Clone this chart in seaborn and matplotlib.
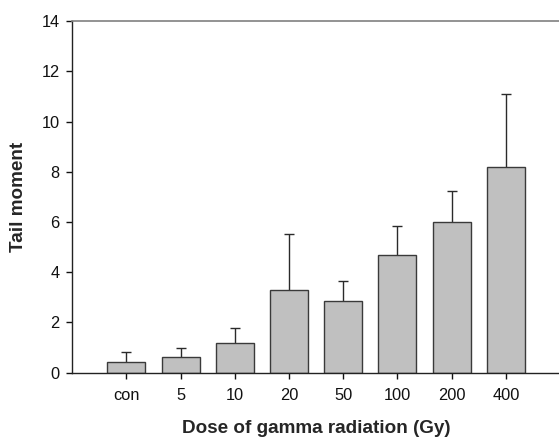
import numpy as np
import pandas as pd
import seaborn as sns
import matplotlib
matplotlib.use("Agg")
import matplotlib.pyplot as plt

# dose groups and comet-assay tail moment (mean, SD)
doses = ["con", "5", "10", "20", "50", "100", "200", "400"]
tail_mean = [0.44, 0.63, 1.17, 3.31, 2.86, 4.69, 5.99, 8.18]
tail_sd = [0.40, 0.34, 0.62, 2.22, 0.81, 1.17, 1.26, 2.91]
yticks = [0, 2, 4, 6, 8, 10, 12, 14]

sns.set_style("ticks")
plt.rcParams['font.family'] = ['Liberation Sans', 'DejaVu Sans']

df = pd.DataFrame({"dose": doses, "tail": tail_mean, "sd": tail_sd})

fig = plt.figure(figsize=(5.59, 4.38), dpi=100, facecolor='white')
ax = fig.add_axes([0.129, 0.149, 0.873, 0.803])

sns.barplot(data=df, x="dose", y="tail", color="#c0c0c0", saturation=1,
            width=0.7, edgecolor="#3a3a3a", linewidth=1.0, ax=ax, zorder=2)

# symmetric error bars drawn behind the bars so only the upper half shows
ax.errorbar(np.arange(len(doses)), df["tail"], yerr=df["sd"], fmt="none",
            ecolor="#2a2a2a", elinewidth=1.0, capsize=3.6, capthick=1.0, zorder=1)

ax.set_xlim(-1, 8)
ax.set_ylim(0, 14)
ax.set_yticks(yticks)

ax.spines['right'].set_visible(False)
ax.spines['top'].set_color('#808080')
ax.spines['top'].set_linewidth(1.2)
for s in ['left', 'bottom']:
    ax.spines[s].set_color('#222222')
    ax.spines[s].set_linewidth(1.0)

ax.tick_params(axis='both', direction='out', length=4, width=1.0,
               labelsize=11.8, colors='#111111', pad=5)
ax.tick_params(axis='x', pad=7)

ax.set_xlabel('Dose of gamma radiation (Gy)', fontsize=13.6, fontweight='bold', labelpad=12)
ax.set_ylabel('Tail moment', fontsize=13.6, fontweight='bold', labelpad=10)

fig.savefig("out.png", dpi=100, facecolor='white')
